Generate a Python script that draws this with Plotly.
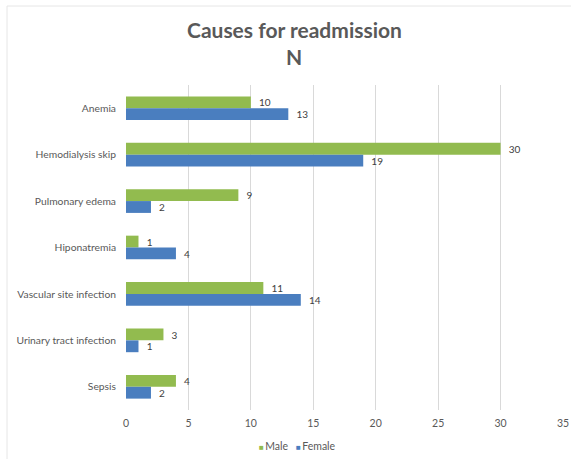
import plotly.graph_objects as go

# Readmission causes, split by sex (counts)
causes = [
    "Anemia",
    "Hemodialysis skip",
    "Pulmonary edema",
    "Hiponatremia",
    "Vascular site infection",
    "Urinary tract infection",
    "Sepsis",
]
male = [10, 30, 9, 1, 11, 3, 4]
female = [13, 19, 2, 4, 14, 1, 2]
x_ticks = [0, 5, 10, 15, 20, 25, 30, 35]

GREEN = "#92bb4f"
BLUE = "#4a7ebf"
TEXT = "#595959"
FONT = "Lato, Carlito, Calibri, sans-serif"

W, H = 572, 460
ML, MR, MT, MB = 126, 9, 85, 50
PW, PH = W - ML - MR, H - MT - MB


def px_x(px):
    return (px - ML) / PW


def px_y(py):
    return (H - MB - py) / PH


fig = go.Figure()
for name, vals, color in (("Male", male, GREEN), ("Female", female, BLUE)):
    fig.add_trace(go.Bar(
        name=name, y=causes, x=vals, orientation="h",
        marker=dict(color=color, line=dict(width=0)),
        text=vals, texttemplate="\u00a0\u00a0%{text}", textposition="outside",
        textfont=dict(size=11, color="#404040", family=FONT),
        cliponaxis=False,
    ))

# compact legend line under the axis
legend_text = (
    f"<span style='color:{GREEN};font-size:8px'>■</span>"
    f"<span style='color:{TEXT}'>\u2009Male\u00a0\u00a0\u00a0</span>"
    f"<span style='color:{BLUE};font-size:8px'>■</span>"
    f"<span style='color:{TEXT}'>\u2009Female</span>"
)

# chart-area border: top and left edges as two separate lines
border = dict(color="#e6e6e6", width=1)
frame_top = dict(type="line", xref="paper", yref="paper",
                 x0=px_x(7), x1=px_x(571), y0=px_y(6), y1=px_y(6),
                 line=border, layer="below")
frame_left = dict(type="line", xref="paper", yref="paper",
                  x0=px_x(7), x1=px_x(7), y0=px_y(6), y1=px_y(459),
                  line=border, layer="below")

fig.update_layout(
    width=W, height=H,
    margin=dict(l=ML, r=MR, t=MT, b=MB, autoexpand=False),
    paper_bgcolor="white", plot_bgcolor="white",
    barmode="group", bargap=0.49, bargroupgap=0,
    font=dict(family=FONT, color=TEXT, size=11),
    showlegend=False,
    xaxis=dict(
        range=[0, 35], tickvals=x_ticks, showgrid=True, gridcolor="#d9d9d9",
        gridwidth=1, zeroline=False, showline=False, automargin=False,
        tickfont=dict(size=10.5, color=TEXT), ticklabelstandoff=5,
    ),
    yaxis=dict(
        autorange="reversed", showgrid=False, zeroline=False, showline=False,
        automargin=False,
        tickfont=dict(size=10.3, color=TEXT), ticklabelstandoff=9,
    ),
    shapes=[frame_top, frame_left],
    annotations=[
        dict(text="<b>Causes for readmission</b>", xref="paper", yref="paper",
             x=px_x(294), y=px_y(30), xanchor="center", yanchor="middle",
             showarrow=False, font=dict(size=21, color=TEXT, family=FONT)),
        dict(text="<b>N</b>", xref="paper", yref="paper",
             x=px_x(294), y=px_y(57), xanchor="center", yanchor="middle",
             showarrow=False, font=dict(size=21, color=TEXT, family=FONT)),
        dict(text=legend_text, xref="paper", yref="paper",
             x=px_x(297), y=px_y(446), xanchor="center", yanchor="middle",
             showarrow=False, font=dict(size=10.5, color=TEXT, family=FONT)),
    ],
)

fig.write_html("out.html")
